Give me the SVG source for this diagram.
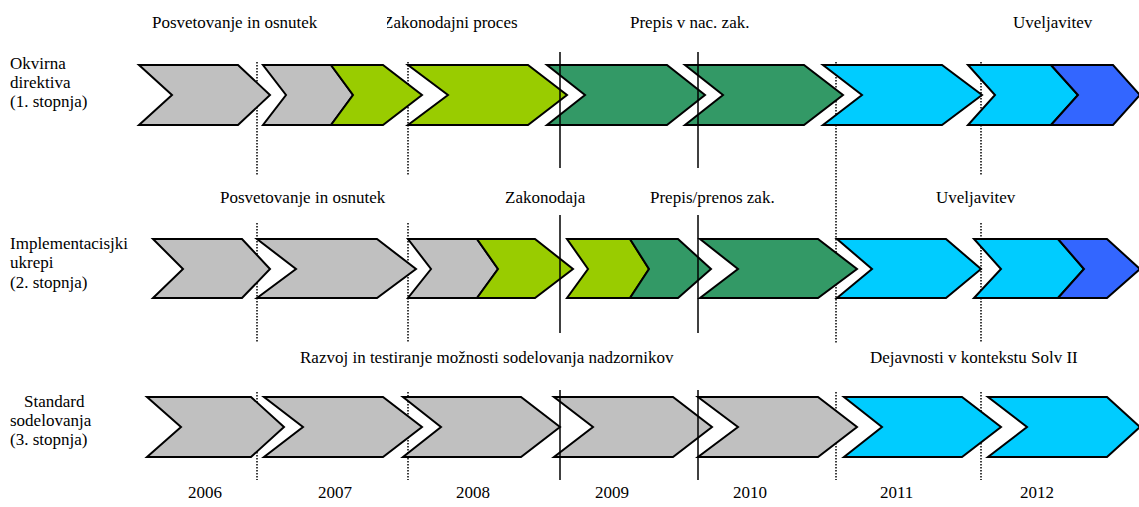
<svg xmlns="http://www.w3.org/2000/svg" width="1139" height="507" viewBox="0 0 1139 507">
<style>
text{font-family:"Liberation Serif","Times New Roman",serif;font-size:17px;fill:#000}
.c{stroke:#000;stroke-width:2;stroke-linejoin:miter}
.g{fill:#C0C0C0}.l{fill:#99CC00}.d{fill:#339966}.y{fill:#00CCFF}.b{fill:#3366FF}
.dot{stroke:#000;stroke-width:1.5;stroke-dasharray:1.5 1.5;fill:none}
.sol{stroke:#000;stroke-width:1.5;fill:none}
</style>
<defs>
<clipPath id="clipZ"><rect x="387" y="0" width="300" height="50"/></clipPath>
</defs>
<rect width="1139" height="507" fill="#fff"/>
<g id="dotted-lines">
<line class="dot" x1="257" y1="62" x2="257" y2="175"/>
<line class="dot" x1="408" y1="62" x2="408" y2="175"/>
<line class="dot" x1="836" y1="62" x2="836" y2="343"/>
<line class="dot" x1="981" y1="62" x2="981" y2="175"/>
<line class="dot" x1="257" y1="223" x2="257" y2="343"/>
<line class="dot" x1="408" y1="223" x2="408" y2="343"/>
<line class="dot" x1="981" y1="223" x2="981" y2="343"/>
<line class="dot" x1="257" y1="392" x2="257" y2="480"/>
<line class="dot" x1="408" y1="392" x2="408" y2="480"/>
<line class="dot" x1="836" y1="392" x2="836" y2="480"/>
<line class="dot" x1="981" y1="392" x2="981" y2="480"/>
</g>
<g id="row1">
<g id="r1-n1"><polygon class="c g" points="139,65 238,65 270,95 238,125 139,125 172,95"/></g>
<g id="r1-n2"><polygon class="c g" points="263,65 331,65 353,95 331,125 263,125 286,95"/><polygon class="c l" points="331,65 383,65 422,95 383,125 331,125 353,95"/></g>
<g id="r1-n3"><polygon class="c l" points="408,65 528,65 567,95 528,125 408,125 448,95"/></g>
<g id="r1-n4"><polygon class="c d" points="547,65 667,65 705,95 667,125 547,125 585,95"/></g>
<g id="r1-n5"><polygon class="c d" points="685,65 804,65 843,95 804,125 685,125 723,95"/></g>
<g id="r1-n6"><polygon class="c y" points="823,65 942,65 982,95 942,125 823,125 862,95"/></g>
<g id="r1-n7"><polygon class="c y" points="968,65 1051,65 1078,95 1051,125 968,125 995,95"/><polygon class="c b" points="1051,65 1113,65 1140,95 1113,125 1051,125 1078,95"/></g>
</g>
<g id="row2">
<g id="r2-n1"><polygon class="c g" points="153,239 242,239 270,269 242,298 153,298 183,269"/></g>
<g id="r2-n2"><polygon class="c g" points="257,239 377,239 416,269 377,298 257,298 296,269"/></g>
<g id="r2-n3"><polygon class="c g" points="408,239 477,239 498,269 477,298 408,298 431,269"/><polygon class="c l" points="477,239 535,239 573,269 535,298 477,298 498,269"/></g>
<g id="r2-n4"><polygon class="c l" points="567,239 630,239 649,269 630,298 567,298 588,269"/><polygon class="c d" points="630,239 678,239 711,269 678,298 630,298 649,269"/></g>
<g id="r2-n5"><polygon class="c d" points="700,239 818,239 857,269 818,298 700,298 738,269"/></g>
<g id="r2-n6"><polygon class="c y" points="837,239 946,239 981,269 946,298 837,298 872,269"/></g>
<g id="r2-n7"><polygon class="c y" points="974,239 1058,239 1084,269 1058,298 974,298 1001,269"/><polygon class="c b" points="1058,239 1107,239 1140,269 1107,298 1058,298 1084,269"/></g>
</g>
<g id="row3">
<g id="r3-n1"><polygon class="c g" points="147,397 251,397 284,427 251,457 147,457 181,427"/></g>
<g id="r3-n2"><polygon class="c g" points="264,397 383,397 422,427 383,457 264,457 303,427"/></g>
<g id="r3-n3"><polygon class="c g" points="403,397 521,397 560,427 521,457 403,457 441,427"/></g>
<g id="r3-n4"><polygon class="c g" points="554,397 673,397 712,427 673,457 554,457 593,427"/></g>
<g id="r3-n5"><polygon class="c g" points="698,397 818,397 857,427 818,457 698,457 738,427"/></g>
<g id="r3-n6"><polygon class="c y" points="844,397 962,397 1001,427 962,457 844,457 882,427"/></g>
<g id="r3-n7"><polygon class="c y" points="988,397 1107,397 1140,427 1107,457 988,457 1027,427"/></g>
</g>
<g id="solid-lines">
<line class="sol" x1="560" y1="52" x2="560" y2="168"/>
<line class="sol" x1="698" y1="52" x2="698" y2="168"/>
<line class="sol" x1="560" y1="215" x2="560" y2="333"/>
<line class="sol" x1="698" y1="215" x2="698" y2="333"/>
<line class="sol" x1="560" y1="390" x2="560" y2="480"/>
<line class="sol" x1="698" y1="390" x2="698" y2="480"/>
</g>
<g id="row-labels">
<text x="10" y="69">Okvirna</text>
<text x="10" y="88">direktiva</text>
<text x="10" y="107">(1. stopnja)</text>
<text x="10" y="249">Implementacisjki</text>
<text x="10" y="268">ukrepi</text>
<text x="10" y="288">(2. stopnja)</text>
<text x="24" y="407">Standard</text>
<text x="10" y="426">sodelovanja</text>
<text x="10" y="445">(3. stopnja)</text>
</g>
<g id="phase-labels">
<text x="152" y="28">Posvetovanje in osnutek</text>
<text x="383" y="28" clip-path="url(#clipZ)">Zakonodajni proces</text>
<text x="630" y="28">Prepis v nac. zak.</text>
<text x="1013" y="28">Uveljavitev</text>
<text x="220" y="203">Posvetovanje in osnutek</text>
<text x="505" y="203">Zakonodaja</text>
<text x="650" y="203">Prepis/prenos zak.</text>
<text x="936" y="203">Uveljavitev</text>
<text x="300" y="363">Razvoj in testiranje možnosti sodelovanja nadzornikov</text>
<text x="870" y="363">Dejavnosti v kontekstu Solv II</text>
</g>
<g id="years">
<text x="188" y="498">2006</text>
<text x="318" y="498">2007</text>
<text x="456" y="498">2008</text>
<text x="595" y="498">2009</text>
<text x="733" y="498">2010</text>
<text x="880" y="498">2011</text>
<text x="1020" y="498">2012</text>
</g>
</svg>
